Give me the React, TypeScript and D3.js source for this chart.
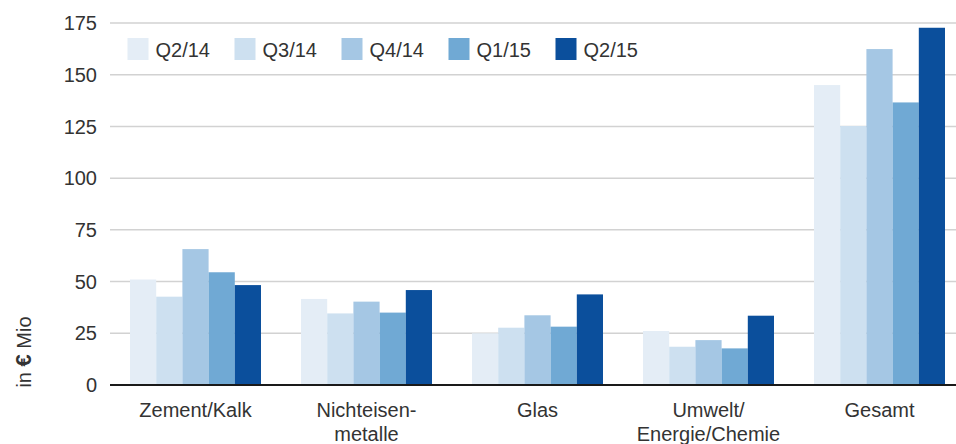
import React from "react";
import * as d3 from "d3";

const categories: string[][] = [
  ["Zement/Kalk"],
  ["Nichteisen-", "metalle"],
  ["Glas"],
  ["Umwelt/", "Energie/Chemie"],
  ["Gesamt"],
];
const seriesNames = ["Q2/14", "Q3/14", "Q4/14", "Q1/15", "Q2/15"];
const q2_14 = [51, 41.6, 25, 26.1, 145];
const q3_14 = [42.7, 34.6, 27.7, 18.5, 125.2];
const q4_14 = [65.7, 40.3, 33.7, 21.7, 162.4];
const q1_15 = [54.5, 35, 28.2, 17.7, 136.6];
const q2_15 = [48.3, 45.9, 43.8, 33.5, 172.7];
const seriesValues = [q2_14, q3_14, q4_14, q1_15, q2_15];
const colors = ["#e4edf6", "#cde0f0", "#a5c7e4", "#70a9d4", "#0b4f9c"];
const yTicks = [0, 25, 50, 75, 100, 125, 150, 175];
const yLabelParts = ["in ", "€", " Mio"];

export default function App() {
  const W = 956;
  const H = 444;
  const left = 110;
  const y = d3.scaleLinear().domain([0, 175]).range([385, 23]);
  const catKeys = categories.map((c) => c.join(" "));
  const x0 = d3
    .scaleBand<string>()
    .domain(catKeys)
    .range([left, left + 5 * 171])
    .paddingInner(0.234)
    .paddingOuter(0.117);
  const x1 = d3
    .scaleBand<string>()
    .domain(seriesNames)
    .range([0, x0.bandwidth()])
    .padding(0);
  const font = "'Liberation Sans', Arial, sans-serif";
  const textColor = "#333";
  return (
    <svg
      width={W}
      height={H}
      style={{ position: "absolute", left: 0, top: 0, background: "#fff" }}
      fontFamily={font}
    >
      {yTicks.map((t) => (
        <g key={t}>
          {t !== 0 && (
            <line x1={left} x2={W} y1={y(t)} y2={y(t)} stroke="#d2d2d2" strokeWidth={1.5} />
          )}
          <text x={97} y={y(t)} dy="0.36em" textAnchor="end" fontSize={20} fill={textColor}>
            {t}
          </text>
        </g>
      ))}
      {catKeys.map((ck, ci) => (
        <g key={ck} transform={`translate(${x0(ck)},0)`}>
          {seriesNames.map((s, si) => (
            <rect
              key={s}
              x={x1(s)}
              y={y(seriesValues[si][ci])}
              width={x1.bandwidth()}
              height={y(0) - y(seriesValues[si][ci])}
              fill={colors[si]}
            />
          ))}
        </g>
      ))}
      <line x1={left} x2={W} y1={y(0)} y2={y(0)} stroke="#1a1a1a" strokeWidth={1.8} />
      {catKeys.map((ck, ci) => (
        <text
          key={ck}
          x={(x0(ck) as number) + x0.bandwidth() / 2}
          y={417}
          textAnchor="middle"
          fontSize={20}
          fill={textColor}
        >
          {categories[ci].map((line, li) => (
            <tspan key={li} x={(x0(ck) as number) + x0.bandwidth() / 2} dy={li === 0 ? 0 : 24}>
              {line}
            </tspan>
          ))}
        </text>
      ))}
      <g>
        {seriesNames.map((s, i) => (
          <g key={s} transform={`translate(${127.5 + i * 107},38)`}>
            <rect x={0} y={0} width={21} height={22} fill={colors[i]} />
            <text x={28} y={19} fontSize={20} fill={textColor}>
              {s}
            </text>
          </g>
        ))}
      </g>
      <text
        transform={`translate(31,352) rotate(-90)`}
        textAnchor="middle"
        fontSize={20}
        fill={textColor}
      >
        <tspan>{yLabelParts[0]}</tspan>
        <tspan fontWeight="bold" fontSize={22}>{yLabelParts[1]}</tspan>
        <tspan>{yLabelParts[2]}</tspan>
      </text>
    </svg>
  );
}
